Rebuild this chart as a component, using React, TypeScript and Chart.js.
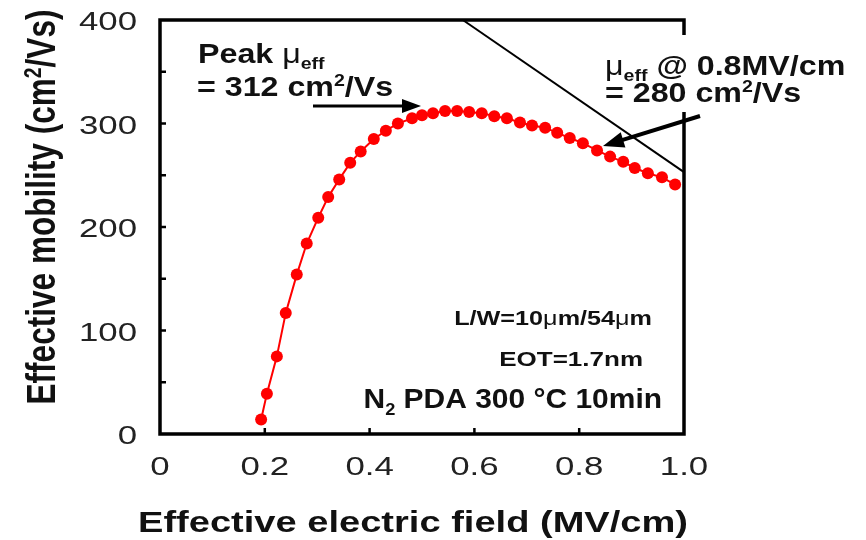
import React, { useEffect, useRef } from "react";
import { Chart, registerables } from "chart.js";

Chart.register(...registerables);

// ---- Data ----
const fieldMVcm = [
  0.193, 0.204, 0.223, 0.24, 0.261, 0.28, 0.302, 0.321, 0.342, 0.363, 0.383, 0.408,
  0.431, 0.454, 0.481, 0.5, 0.521, 0.544, 0.567, 0.59, 0.614, 0.638, 0.662, 0.687,
  0.71, 0.735, 0.758, 0.782, 0.807, 0.834, 0.859, 0.884, 0.906, 0.931, 0.958, 0.983,
];
const mobility = [
  14, 39, 75, 117, 154, 184, 209, 229, 246, 262, 273, 285,
  293, 300, 305, 308, 310, 312, 312, 311, 310, 307, 305, 301,
  298, 296, 291, 286, 281, 274, 268, 263, 257, 252, 248, 241,
];
const universalField = [0.578, 1.0];
const universalMobility = [400, 253];

const xTickValues = [0, 0.2, 0.4, 0.6, 0.8, 1.0];
const xTickLabels = ["0", "0.2", "0.4", "0.6", "0.8", "1.0"];
const yTickValues = [0, 100, 200, 300, 400];
const yTickLabels = ["0", "100", "200", "300", "400"];
const xMinorTicks = [0.2, 0.4, 0.6, 0.8];
const yMinorTicks = [50, 100, 150, 200, 250, 300, 350];

const FAM = '"Liberation Sans", Arial, Helvetica, sans-serif';
const bold = (n: number) => `bold ${n}px ${FAM}`;
const reg = (n: number) => `${n}px ${FAM}`;

type Seg = { t: string; font: string; dy?: number };

function drawSegs(
  ctx: CanvasRenderingContext2D,
  segs: Seg[],
  x: number,
  y: number,
  sx: number,
  sy: number,
  align: "left" | "right" | "center",
  fitWidth?: number
) {
  const widths = segs.map((s) => {
    ctx.font = s.font;
    return ctx.measureText(s.t).width;
  });
  const natural = widths.reduce((a, b) => a + b, 0);
  const scaleX = fitWidth ? fitWidth / natural : sx;
  const total = natural * scaleX;
  let cx = align === "left" ? x : align === "right" ? x - total : x - total / 2;
  ctx.textAlign = "left";
  ctx.textBaseline = "alphabetic";
  segs.forEach((s, i) => {
    ctx.save();
    ctx.font = s.font;
    ctx.translate(cx, y + (s.dy || 0) * sy);
    ctx.scale(scaleX, sy);
    ctx.fillText(s.t, 0, 0);
    ctx.restore();
    cx += widths[i] * scaleX;
  });
}

const decorPlugin = {
  id: "decor",
  afterDraw(chart: any) {
    const ctx: CanvasRenderingContext2D = chart.ctx;
    const xs = chart.scales.x;
    const ys = chart.scales.y;
    const { left, right, top, bottom } = chart.chartArea;
    ctx.save();

    // frame (right side interrupted by annotation box)
    ctx.strokeStyle = "#000";
    ctx.lineWidth = 3.5;
    ctx.lineJoin = "miter";
    ctx.lineCap = "butt";
    ctx.beginPath();
    ctx.moveTo(right, top + 15);
    ctx.lineTo(right, top);
    ctx.lineTo(left, top);
    ctx.lineTo(left, bottom);
    ctx.lineTo(right, bottom);
    ctx.lineTo(right, 112);
    ctx.stroke();

    // inward ticks
    ctx.lineWidth = 2.5;
    ctx.beginPath();
    xMinorTicks.forEach((v) => {
      const px = xs.getPixelForValue(v);
      ctx.moveTo(px, bottom);
      ctx.lineTo(px, bottom - 6);
    });
    yMinorTicks.forEach((v) => {
      const py = ys.getPixelForValue(v);
      ctx.moveTo(left, py);
      ctx.lineTo(left + 6, py);
    });
    ctx.stroke();

    // tick labels
    ctx.fillStyle = "#222";
    yTickValues.forEach((v, i) => {
      const py = ys.getPixelForValue(v);
      drawSegs(ctx, [{ t: yTickLabels[i], font: reg(24) }], left - 23, py + 10, 1.45, 1.05, "right");
    });
    xTickValues.forEach((v, i) => {
      const px = xs.getPixelForValue(v);
      drawSegs(ctx, [{ t: xTickLabels[i], font: reg(24) }], px, 475, 1.45, 1.05, "center");
    });

    // axis titles
    ctx.fillStyle = "#111";
    drawSegs(ctx, [{ t: "Effective electric field (MV/cm)", font: bold(29) }], 413, 532, 1, 1, "center", 550);
    ctx.save();
    ctx.translate(55, 207);
    ctx.rotate(-Math.PI / 2);
    drawSegs(
      ctx,
      [
        { t: "Effective mobility (cm", font: bold(31) },
        { t: "2", font: bold(19), dy: -11 },
        { t: "/Vs)", font: bold(31) },
      ],
      0,
      0,
      1,
      1.3,
      "center",
      395
    );
    ctx.restore();

    // annotations
    ctx.fillStyle = "#111";
    const aS = 1.15;
    drawSegs(
      ctx,
      [
        { t: "Peak ", font: bold(28) },
        { t: "\u03BC", font: reg(28) },
        { t: "eff", font: bold(17), dy: 6 },
      ],
      198,
      63,
      aS,
      1,
      "left"
    );
    drawSegs(
      ctx,
      [
        { t: "= 312 cm", font: bold(28) },
        { t: "2", font: bold(17), dy: -10 },
        { t: "/Vs", font: bold(28) },
      ],
      197,
      96,
      aS,
      1,
      "left"
    );
    drawSegs(
      ctx,
      [
        { t: "\u03BC", font: reg(28) },
        { t: "eff", font: bold(17), dy: 6 },
        { t: " @ 0.8MV/cm", font: bold(28) },
      ],
      605,
      75,
      aS,
      1,
      "left"
    );
    drawSegs(
      ctx,
      [
        { t: "= 280 cm", font: bold(28) },
        { t: "2", font: bold(17), dy: -10 },
        { t: "/Vs", font: bold(28) },
      ],
      605,
      102,
      aS,
      1,
      "left"
    );

    drawSegs(
      ctx,
      [
        { t: "L/W=10", font: bold(20) },
        { t: "\u03BC", font: reg(20) },
        { t: "m/54", font: bold(20) },
        { t: "\u03BC", font: reg(20) },
        { t: "m", font: bold(20) },
      ],
      652,
      325,
      1.26,
      1,
      "right"
    );
    drawSegs(ctx, [{ t: "EOT=1.7nm", font: bold(20) }], 643, 366, 1.3, 1, "right");
    drawSegs(
      ctx,
      [
        { t: "N", font: bold(28) },
        { t: "2", font: bold(17), dy: 7 },
        { t: " PDA 300 \u00B0C 10min", font: bold(28) },
      ],
      662,
      408,
      1.07,
      1,
      "right"
    );

    // arrows
    ctx.strokeStyle = "#000";
    ctx.fillStyle = "#000";
    // peak arrow
    ctx.lineWidth = 3;
    ctx.beginPath();
    ctx.moveTo(313, 106);
    ctx.lineTo(405, 106);
    ctx.stroke();
    ctx.beginPath();
    ctx.moveTo(421, 106);
    ctx.lineTo(402, 99);
    ctx.lineTo(402, 113);
    ctx.closePath();
    ctx.fill();
    // 0.8 MV/cm arrow
    const sxp = 700, syp = 116, tx = 603, ty = 146;
    const dx = tx - sxp, dy = ty - syp;
    const L = Math.hypot(dx, dy);
    const ux = dx / L, uy = dy / L;
    const hl = 21, hw = 8;
    const bx = tx - ux * hl, by = ty - uy * hl;
    ctx.lineWidth = 4;
    ctx.beginPath();
    ctx.moveTo(sxp, syp);
    ctx.lineTo(bx + ux * 2, by + uy * 2);
    ctx.stroke();
    ctx.beginPath();
    ctx.moveTo(tx, ty);
    ctx.lineTo(bx - uy * hw, by + ux * hw);
    ctx.lineTo(bx + uy * hw, by - ux * hw);
    ctx.closePath();
    ctx.fill();

    ctx.restore();
  },
};

export default function App() {
  const ref = useRef<HTMLCanvasElement | null>(null);
  useEffect(() => {
    if (!ref.current) return;
    const chart = new Chart(ref.current, {
      type: "scatter",
      data: {
        datasets: [
          {
            data: universalField.map((x, i) => ({ x, y: universalMobility[i] })),
            showLine: true,
            borderColor: "#000",
            borderWidth: 2,
            pointRadius: 0,
            clip: false as any,
          },
          {
            data: fieldMVcm.map((x, i) => ({ x, y: mobility[i] })),
            showLine: true,
            borderColor: "#ff0000",
            backgroundColor: "#ff0000",
            borderWidth: 2,
            pointRadius: 6,
            pointBorderWidth: 0,
            pointBackgroundColor: "#ff0000",
            clip: false as any,
          },
        ],
      },
      options: {
        responsive: false,
        animation: false,
        events: [],
        layout: { padding: { left: 160, top: 20, right: 182, bottom: 106 } },
        plugins: { legend: { display: false }, tooltip: { enabled: false } },
        scales: {
          x: { type: "linear", min: 0, max: 1.0, display: false },
          y: { type: "linear", min: 0, max: 400, display: false },
        },
      },
      plugins: [decorPlugin],
    });
    return () => chart.destroy();
  }, []);
  return (
    <div style={{ position: "fixed", left: 0, top: 0, width: 866, height: 540, background: "#fff" }}>
      <canvas ref={ref} width={866} height={540} style={{ display: "block" }} />
    </div>
  );
}
